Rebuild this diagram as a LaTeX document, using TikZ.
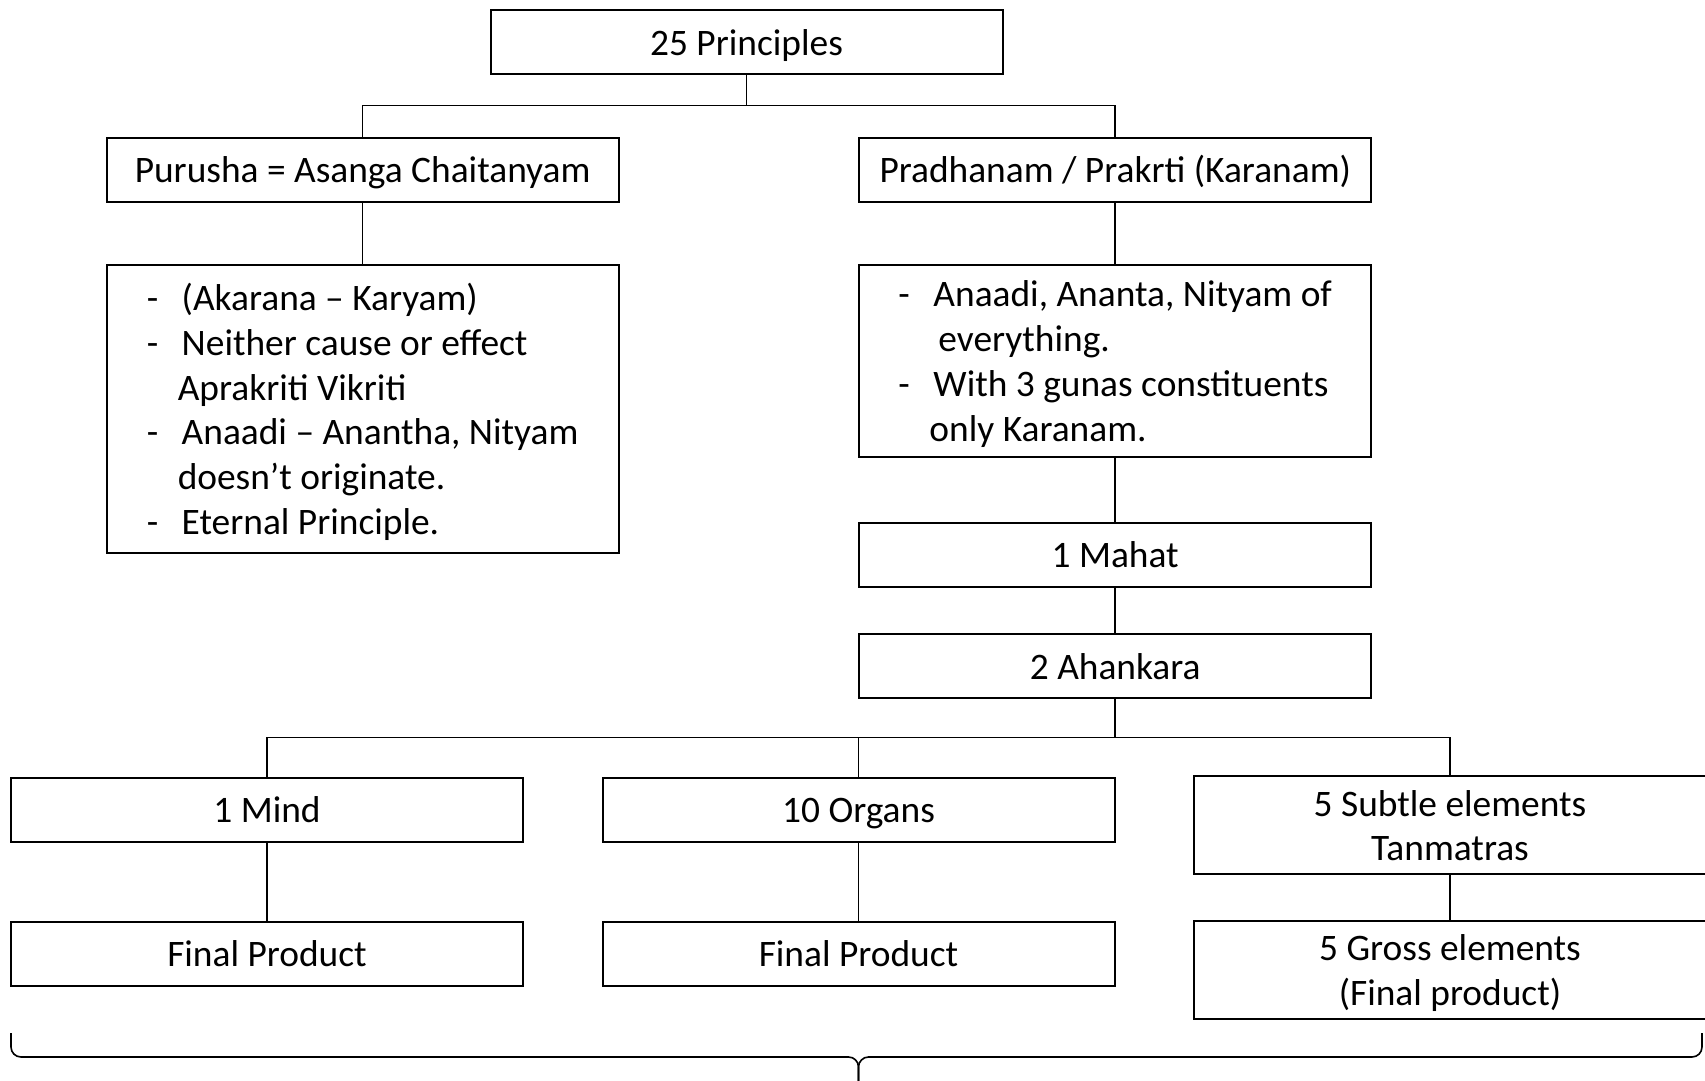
\documentclass[tikz,border=0pt]{standalone}
\usepackage{fontspec}
\setmainfont{Carlito}

\newcommand{\itm}{\makebox[17.5pt][l]{-}}
\newcommand{\txtc}[1]{\begin{tabular}{@{}c@{}}\rule{0pt}{19.9pt}#1\end{tabular}}
\newcommand{\txtl}[1]{\begin{tabular}{@{}l@{}}\rule{0pt}{19.9pt}#1\end{tabular}}

\begin{document}
\begin{tikzpicture}
          [x=0.5pt,y=-0.5pt,
           box/.style={draw, line width=1pt, inner sep=0pt, minimum width=256pt, minimum height=32pt,
                       font=\fontsize{18.7}{22.4}\selectfont},
           link/.style={line width=0.8pt}]
        \useasboundingbox (0,0) rectangle (1705,1081);

        \node[box] (p25) at (746.5,42) {\txtc{25 Principles}};

        \node[box] (pur) at (362.6,169.7) {\txtc{Purusha = Asanga Chaitanyam}};
        \node[box, minimum height=144pt] (purd) at (362.6,409.4)
          {\txtl{\itm(Akarana – Karyam)\\
           \itm Neither cause or effect\\
           \hspace*{15.5pt}Aprakriti Vikriti\\
           \itm Anaadi – Anantha, Nityam\\
           \hspace*{15.5pt}doesn’t originate.\\
           \itm Eternal Principle.}};

        \node[box] (prad) at (1115.2,169.7) {\txtc{Pradhanam / Prakrti (Karanam)}};
        \node[box, minimum height=95.7pt] (pradd) at (1115.2,361)
          {\txtl{\itm Anaadi, Ananta, Nityam of\\
           \hspace*{20pt}everything.\\
           \itm With 3 gunas constituents\\
           \hspace*{15.5pt}only Karanam.}};
        \node[box] (mahat) at (1115.2,554.6) {\txtc{1 Mahat}};
        \node[box] (ahank) at (1115.2,666) {\txtc{2 Ahankara}};

        \node[box] (mind) at (267,809.5) {\txtc{1 Mind}};
        \node[box] (org) at (858.5,809.5) {\txtc{10 Organs}};
        \node[box, minimum height=48pt] (subtle) at (1450,825.3) {\txtc{5 Subtle elements\\Tanmatras}};

        \node[box] (fin1) at (267,953.6) {\txtc{Final Product}};
        \node[box] (fin2) at (858.5,953.6) {\txtc{Final Product}};
        \node[box, minimum height=48pt] (gross) at (1450,970) {\txtc{5 Gross elements\\(Final product)}};

        % branch points
        \coordinate (j1) at (746.5,105.5);
        \coordinate (j2) at (1115.2,737.3);

        \draw[link] (p25) -- (j1);
        \draw[link] (pur) |- (j1) -| (prad);

        \draw[link] (ahank) -- (j2);
        \draw[link] (mind) |- (j2) -| (subtle);
        \draw[link] (org) |- (j2);

        \foreach \from/\to in {pur/purd, prad/pradd, pradd/mahat, mahat/ahank, mind/fin1, org/fin2, subtle/gross}
          \draw[link] (\from) -- (\to);

        % brace under the bottom row
        \draw[link, rounded corners=5pt] (11,1033) -- (11,1057) -- (858.5,1057) -- (858.5,1090);
        \draw[link, rounded corners=5pt] (1702,1033) -- (1702,1057) -- (858.5,1057) -- (858.5,1090);
      \end{tikzpicture}
\end{document}
